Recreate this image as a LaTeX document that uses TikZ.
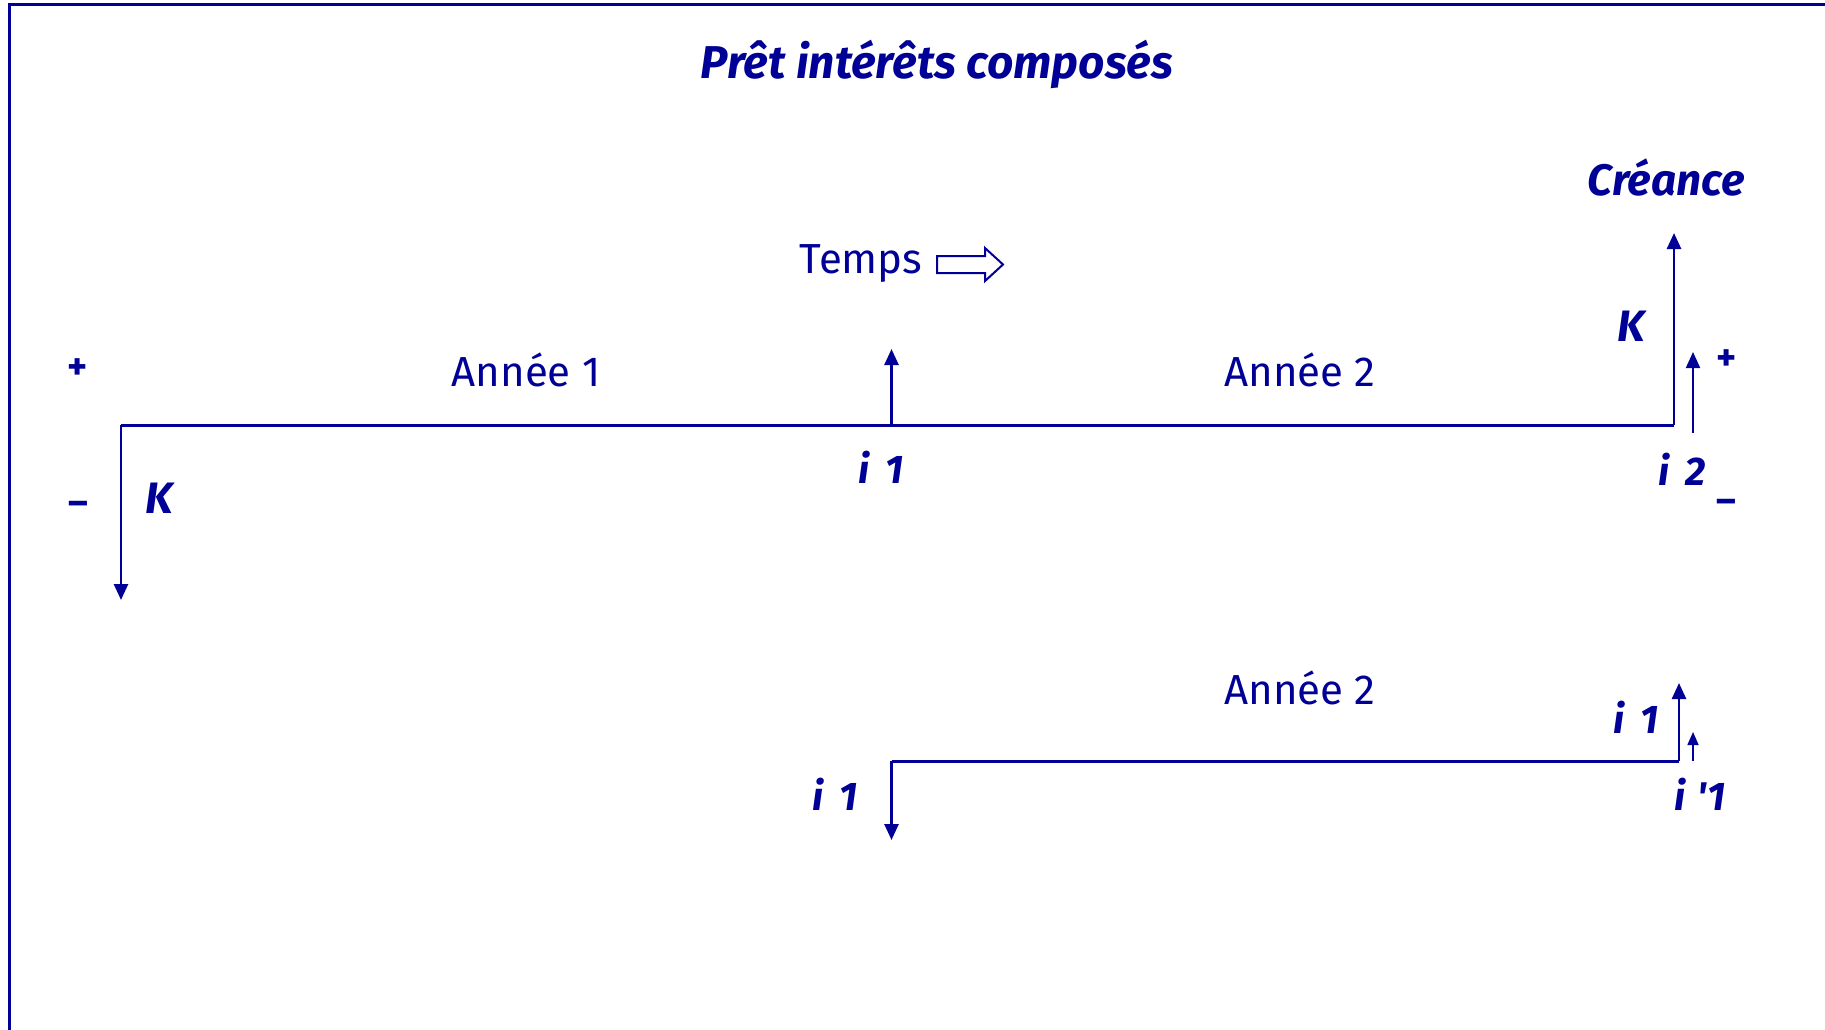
\documentclass[tikz,border=0pt]{standalone}
\usepackage{fontspec}
\setmainfont{Fira Sans}
\usetikzlibrary{arrows.meta}
\definecolor{ink}{RGB}{0,0,150}
\tikzset{
  bi/.style={text=ink, inner sep=0pt, anchor=base, font=\fontsize{44}{48}\selectfont\bfseries\itshape},
  sm/.style={text=ink, inner sep=0pt, anchor=base, font=\fontsize{40}{44}\selectfont\bfseries\itshape},
  rg/.style={text=ink, inner sep=0pt, anchor=base, font=\fontsize{42}{46}\selectfont},
  sign/.style={text=ink, inner sep=0pt, anchor=center, font=\fontsize{38}{42}\selectfont\bfseries},
  arr/.style={draw=ink, line width=2.6pt, -{Triangle[length=16pt,width=14pt]}},
  sarr/.style={draw=ink, line width=2pt, -{Triangle[length=16pt,width=14pt]}},
  axis/.style={draw=ink, line width=3pt},
}
\begin{document}
\begin{tikzpicture}[x=1pt,y=-1pt]
\useasboundingbox (0,0) rectangle (1825,1029);
% frame (top and left visible)
\draw[draw=ink, line width=3pt] (9,1035) -- (9,4) -- (1830,4);

% title
\node[bi, font=\fontsize{46}{50}\selectfont\bfseries\itshape] (title) at (937,78) {Prêt intérêts composés};
\node[bi, font=\fontsize{44}{48}\selectfont\bfseries\itshape] (creance) at (1666,195) {Créance};

% Temps + outline arrow
\node[rg] (temps) at (861,273) {Temps};
\draw[draw=ink, line width=2pt, fill=white] (937,256) -- (985,256) -- (985,248) -- (1003,264.5) -- (985,281) -- (985,273) -- (937,273) -- cycle;

% upper timeline
\coordinate (A) at (121,425);
\coordinate (B) at (891.5,425);
\coordinate (C) at (1674,425);
\coordinate (Adown) at (121,600);
\coordinate (Bup) at (891.5,349);
\coordinate (Cup) at (1674,233);
\coordinate (Dlo) at (1693,433);
\coordinate (Dup) at (1693,352);
\draw[axis] (A) -- (C);
\draw[arr] (A) -- (Adown);
\draw[arr] (B) -- (Bup);
\draw[arr] (C) -- (Cup);
\draw[sarr] (Dlo) -- (Dup);

\node[sign] (plusL) at (78,369) {+};
\node[sign] (minusL) at (78,508) {–};
\node[bi] (KL) at (159,513) {K};
\node[rg] (an1) at (526,386) {Année 1};
\node[rg] (an2) at (1300,386) {Année 2};
\node[sm] (i1) at (881,483) {i\hspace{0.4em}1};
\node[bi] (KR) at (1631,341) {K};
\node[sign] (plusR) at (1727,360) {+};
\node[sm] (i2) at (1682,485) {i\hspace{0.4em}2};
\node[sign] (minusR) at (1726,506) {–};

% lower timeline
\coordinate (E) at (891.5,761);
\coordinate (F) at (1679,761);
\coordinate (Edown) at (891.5,840);
\coordinate (Fup) at (1679,683);
\coordinate (Gup) at (1693,732);
\coordinate (Glo) at (1693,761);
\draw[axis] (E) -- (F);
\draw[arr] (E) -- (Edown);
\draw[arr] (F) -- (Fup);
\draw[draw=ink, line width=1.6pt, -{Triangle[length=13pt,width=11pt]}] (Glo) -- (Gup);

\node[rg] (an2b) at (1300,704) {Année 2};
\node[sm] (i1r) at (1636,733) {i\hspace{0.4em}1};
\node[sm] (i1l) at (835,810) {i\hspace{0.4em}1};
\node[sm] (i1p) at (1700,810) {i\hspace{0.3em}\textquotesingle 1};
\end{tikzpicture}
\end{document}
